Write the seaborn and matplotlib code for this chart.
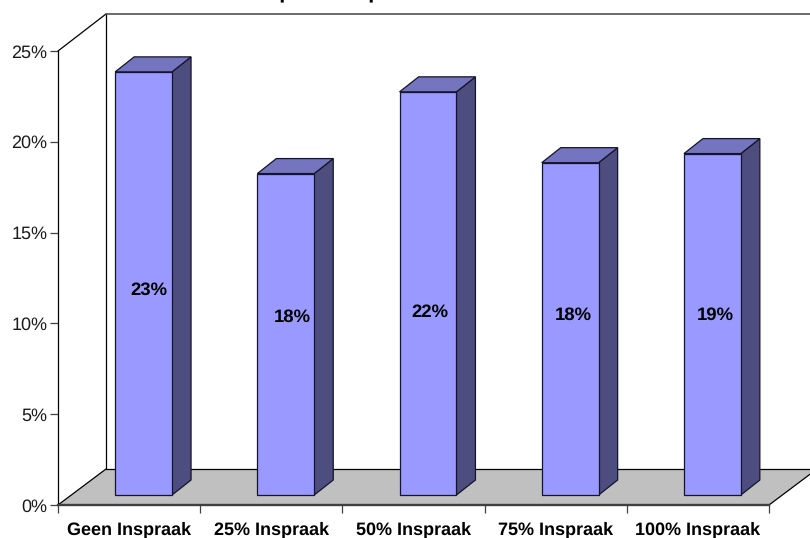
import matplotlib
matplotlib.use("Agg")
import matplotlib.pyplot as plt
import pandas as pd
import seaborn as sns

categories = ["Geen Inspraak", "25% Inspraak", "50% Inspraak", "75% Inspraak", "100% Inspraak"]
values = [23.3, 17.7, 22.2, 18.3, 18.8]
value_labels = ["23%", "18%", "22%", "18%", "19%"]
y_ticks = [0, 5, 10, 15, 20, 25]
title = "Inspraak in procenten"

W, H = 810, 538
FRONT = "#9999FF"
SIDE = "#4D4D80"
TOP = "#7474BF"
FLOOR = "#C0C0C0"
EDGE = "#14142B"

# where the value labels sit relative to each bar, in pixels
label_dx = [5, 7, 1.5, 3, 2.5]
label_y_px = [290, 317.5, 312, 315, 315]


def px_axes(left, right, bottom, top):
    # pixel box (y down) to a figure axes
    return fig.add_axes([left / W, 1 - bottom / H, (right - left) / W, (bottom - top) / H])


sns.set_theme(style="white")
plt.rcParams["font.family"] = ["Liberation Sans", "DejaVu Sans"]
plt.rcParams["text.hinting"] = "none"

fig = plt.figure(figsize=(W / 100, H / 100), dpi=100)

# walls and floor, in pixels
bg = fig.add_axes([0, 0, 1, 1])
bg.set_xlim(0, W)
bg.set_ylim(H, 0)
bg.axis("off")
bg.fill([58, 769, 817, 106], [505, 505, 469, 469], color=FLOOR, lw=0)
bg.plot([106, 106], [14, 469], color="black", lw=0.9)
bg.plot([106, 817], [469, 469], color="black", lw=0.9)
bg.plot([58, 106], [51, 14], color="black", lw=0.9)
bg.plot([58, 106], [505, 469], color="black", lw=0.9)
bg.plot([769, 817], [505, 469], color="black", lw=0.9)
bg.plot([106, 817], [14, 14], color="#505050", lw=1.2)

# front axis carries ticks and labels
ax = px_axes(58, 769, 505, 51)
ax.patch.set_alpha(0)
ax.set_xlim(-0.5, 4.5)
ax.set_ylim(0, 25)
ax.set_yticks(y_ticks)
ax.set_yticklabels([f"{t}%" for t in y_ticks], fontsize=13, color="#1A1A1A")
ax.set_xticks(range(len(categories)))
ax.set_xticklabels(categories, fontsize=13, fontweight="bold", color="black")
ax.set_xticks([i - 0.5 for i in range(len(categories) + 1)], minor=True)
ax.tick_params(axis="x", which="major", length=0, pad=12)
ax.tick_params(axis="x", which="minor", length=6, width=0.9, color="#404040", bottom=True)
ax.tick_params(axis="y", length=6, width=0.9, color="#404040", left=True, pad=1.5)
for side in ["top", "right"]:
    ax.spines[side].set_visible(False)
ax.spines["left"].set_color("black")
ax.spines["left"].set_linewidth(0.9)
ax.spines["bottom"].set_color("#404040")
ax.spines["bottom"].set_linewidth(1.7)

# bars sit part way back on the floor
bar_ax = px_axes(72.5, 783.5, 495, 41)
bar_ax.patch.set_alpha(0)
df = pd.DataFrame({"category": categories, "value": values})
sns.barplot(data=df, x="category", y="value", color=FRONT, saturation=1, width=0.4,
            edgecolor=EDGE, linewidth=0.9, ax=bar_ax, zorder=3)
bar_ax.set_xlim(-0.5, 4.5)
bar_ax.set_ylim(0, 25)
bar_ax.axis("off")

dx = 19 / 142.2
dy = 15 / 18.16
for i, bar in enumerate(bar_ax.patches):
    bar.set_clip_on(False)
    x0 = bar.get_x()
    x1 = x0 + bar.get_width()
    h = bar.get_height()
    bar_ax.fill([x1, x1 + dx, x1 + dx, x1], [0, dy, h + dy, h], facecolor=SIDE,
                edgecolor=EDGE, lw=0.9, clip_on=False, zorder=2)
    bar_ax.fill([x0, x1, x1 + dx, x0 + dx], [h, h, h + dy, h + dy], facecolor=TOP,
                edgecolor=EDGE, lw=0.9, clip_on=False, zorder=2)
    bar_ax.text((x0 + x1) / 2 + label_dx[i] / 142.2, (495 - label_y_px[i]) / 18.16, value_labels[i],
                ha="center", va="center", fontsize=13.3, fontweight="bold", color="black", zorder=4)

# title is cut off by the top edge of the image
fig.text(248.5 / W, 1 + 1.5 / H, title, ha="left", va="baseline",
         fontsize=15.6, fontweight="bold", color="black")

fig.savefig("out.png", dpi=100)
